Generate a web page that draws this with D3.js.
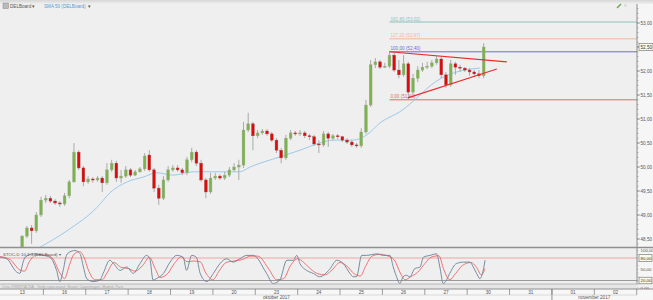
<!DOCTYPE html>
<html><head><meta charset="utf-8">
<script src="https://cdn.jsdelivr.net/npm/d3@7"></script>
<style>body{margin:0;background:#efefef;overflow:hidden}svg{display:block;font-family:"Liberation Sans",Arial,sans-serif}</style>
</head><body><svg id="c" width="653" height="300"></svg>
<script>
// ---- DATA ----
const open=[48.02,48.06,48.10,48.15,48.31,48.56,48.73,48.67,49.00,49.31,
49.35,49.29,49.25,49.23,49.40,49.69,50.31,49.98,49.69,49.75,
49.73,49.77,49.67,49.94,50.08,49.77,49.81,49.94,49.83,49.90,
49.96,50.25,49.94,49.56,49.35,49.73,49.94,49.98,49.94,49.88,
50.15,50.31,50.08,49.73,49.48,49.77,49.81,49.77,49.83,49.94,
50.00,50.04,50.77,50.90,50.65,50.71,50.75,50.69,50.56,50.35,
50.19,50.60,50.71,50.69,50.71,50.65,50.63,50.48,50.46,50.69,
50.60,50.65,50.63,50.56,50.52,50.46,50.44,50.73,51.29,52.13,
52.19,52.08,52.10,52.33,52.02,51.92,52.15,51.56,51.85,52.02,
52.08,52.10,52.17,52.25,51.92,51.71,52.15,52.08,52.06,52.02,
51.98,51.94,51.90];
const high=[48.10,48.17,48.19,48.31,48.58,48.77,48.79,49.06,49.38,49.42,
49.40,49.33,49.29,49.46,49.73,50.50,50.35,50.02,49.81,49.79,
49.81,49.81,50.08,50.15,50.13,49.94,50.02,49.98,49.94,50.00,
50.29,50.35,49.98,49.63,49.81,50.02,50.04,50.04,49.98,50.21,
50.40,50.35,50.15,49.77,49.88,49.88,49.85,49.90,50.00,50.08,
50.15,50.94,51.13,50.94,50.77,50.79,50.79,50.73,50.60,50.40,
50.67,50.77,50.75,50.77,50.75,50.69,50.67,50.56,50.75,50.73,
50.69,50.69,50.65,50.60,50.56,50.50,50.81,51.40,52.23,52.27,
52.23,52.17,52.42,52.38,52.23,52.33,52.19,51.94,52.10,52.17,
52.19,52.23,52.31,52.29,51.98,52.23,52.19,52.13,52.08,52.06,
52.02,52.02,52.58];
const low=[47.98,48.02,48.06,48.10,48.27,48.52,48.40,48.63,48.96,49.25,
49.25,49.21,49.17,49.19,49.35,49.67,49.94,49.60,49.65,49.67,
49.69,49.48,49.63,49.90,49.69,49.67,49.77,49.79,49.81,49.88,
49.92,49.90,49.48,49.21,49.31,49.69,49.90,49.90,49.83,49.83,
50.10,50.02,49.69,49.35,49.44,49.73,49.73,49.73,49.79,49.90,
49.73,49.98,50.73,50.35,50.60,50.67,50.65,50.52,50.29,50.08,
50.15,50.56,50.65,50.65,50.60,50.56,50.44,50.29,50.42,50.42,
50.56,50.58,50.52,50.48,50.42,50.40,50.40,50.69,51.25,52.06,
52.04,52.06,52.06,51.98,51.85,51.88,51.40,51.52,51.77,51.98,
52.04,52.06,52.13,51.85,51.65,51.67,51.92,51.98,51.98,51.90,
51.88,51.85,51.85];
const close=[48.06,48.10,48.15,48.27,48.56,48.73,48.67,49.00,49.31,49.35,
49.29,49.25,49.23,49.40,49.69,50.31,49.98,49.69,49.75,49.73,
49.77,49.67,49.94,50.08,49.77,49.81,49.94,49.83,49.90,49.96,
50.23,49.94,49.56,49.35,49.73,49.94,49.98,49.94,49.88,50.15,
50.31,50.08,49.73,49.48,49.77,49.81,49.77,49.83,49.94,50.00,
50.04,50.77,50.90,50.65,50.71,50.75,50.69,50.56,50.35,50.19,
50.60,50.71,50.69,50.71,50.65,50.63,50.48,50.46,50.69,50.60,
50.65,50.63,50.56,50.52,50.46,50.44,50.73,51.29,52.13,52.19,
52.08,52.10,52.33,52.02,51.92,52.15,51.56,51.85,52.02,52.08,
52.10,52.17,52.25,51.92,51.71,52.15,52.08,52.06,52.02,51.98,
51.94,51.90,52.50];
// SMA: [candle index, value]
const sma=[[7.8,48.33],[13.5,48.67],[20,49.17],[22.6,49.46],[26.3,49.69],[29.7,49.79],[32.6,49.88],[36,49.83],[40.3,49.90],[43.2,49.90],[50.2,49.90],[52.4,50.00],[58.7,50.21],[63,50.35],[67.2,50.50],[70,50.56],[74.2,50.56],[77.2,50.67],[80,50.92],[84.2,51.15],[93,51.85],[97,52.00],[101.2,52.06]];
// Stochastic %K and %D: [candle index, value]
const stochK=[[-0.7,82],[0.7,78],[2.8,43],[3.5,39],[4.2,69],[4.6,82],[6.4,91],[8.5,87],[9.9,82],[11.3,47],[12,17],[12.7,47],[13.4,87],[14.1,96],[15.2,100],[16.3,91],[17,56],[17.7,25],[19.1,17],[20.5,21],[21.2,39],[22.6,74],[23.4,65],[24.8,47],[26.2,56],[27.6,39],[29,65],[30.4,87],[31.1,78],[31.8,21],[32.5,25],[34,39],[35.4,69],[36.8,87],[38.2,82],[38.9,47],[40,87],[41,82],[41.8,39],[43.2,17],[44.6,39],[46,65],[47.4,78],[48.8,69],[50.2,78],[51.7,87],[53.1,87],[55.9,39],[57.3,12],[58.7,21],[60.2,74],[61.6,74],[62.3,87],[63,65],[64.4,47],[65.8,39],[67.2,30],[69.3,50],[70.8,74],[72.2,65],[73.6,39],[74.3,30],[75,30],[76.1,87],[77.1,87],[79.3,91],[80.7,87],[82.1,87],[82.8,56],[83.5,30],[84.2,12],[84.9,30],[85.6,34],[86.3,30],[87.4,52],[88.5,56],[89.2,82],[90.6,87],[92,91],[92.7,56],[93.4,12],[94.1,21],[94.8,39],[96.2,65],[97.7,69],[99.1,69],[99.8,56],[100.5,39],[101.2,25],[101.9,47],[102.3,74]];
const stochD=[[-0.7,84],[1.5,75],[3.5,48],[4.5,45],[5.5,70],[7,88],[9,88],[10.5,78],[12,40],[13,25],[14,60],[15,90],[16.2,97],[17.2,80],[18,50],[19.5,22],[21,22],[22,40],[23.5,68],[25,55],[26.5,52],[28,45],[29.7,62],[31,82],[32.3,50],[33.3,28],[35,40],[36.3,65],[37.8,83],[39,70],[40.5,72],[41.8,70],[43,40],[44.5,22],[45.8,45],[47.3,68],[49,72],[50.8,76],[52.5,85],[54,85],[56.5,48],[58,22],[59.5,25],[61,60],[62.5,78],[63.8,68],[65.3,50],[66.8,38],[68.3,35],[69.8,48],[71.5,68],[73,58],[74.5,38],[75.8,32],[77,60],[78.3,85],[80,90],[81.5,86],[83,75],[84.3,40],[85.3,22],[86.5,30],[88,42],[89.5,65],[90.8,82],[92.5,86],[93.5,50],[94.8,22],[96,38],[97.5,60],[99.3,68],[100.5,55],[101.5,35],[102.3,52]];
const priceTicks=[48.5,49,49.5,50,50.5,51,51.5,52,52.5,53];
const stochTicks=[0,50,100];
const stochLevels=[80,20];
const dayLabels=["13","16","17","18","19","20","23","24","25","26","27","30","31","01","02"];
const months=[["október 2017",0,13],["november 2017",13,15]];
const fib=[["161,80",53.02,"#8fbfbf"],["127,20",52.67,"#f0b895"],["100,00",52.40,"#6a6ae6"],["0,00",51.40,"#e06a6a"]];
const fibStartIdx=82;
const triUpper=[[82,52.40],[106.9,52.19]];
const triLower=[[85.9,51.44],[104.8,52.04]];
const perDay=9;

// ---- LAYOUT ----
const svg=d3.select("#c");
const W=653,H=300, axisX=637, mainTop=4, mainBot=247, stTop=248, stBot=284;
const fmt=v=>d3.format(".2f")(v).replace(".",",");
const x=d3.scaleLinear().domain([-0.5,dayLabels.length*perDay-0.5]).range([1,axisX-0.3]);
const y=d3.scaleLinear().domain([48.5,53]).range([239,23]);
const ys=d3.scaleLinear().domain([0,100]).range([288,250.5]);

svg.append("rect").attr("width",W).attr("height",H).attr("fill","#efefef");
const defs=svg.append("defs");
const grad=defs.append("linearGradient").attr("id","tg").attr("x1",0).attr("x2",0).attr("y1",0).attr("y2",1);
grad.append("stop").attr("offset",0).attr("stop-color","#d6d6d6");
grad.append("stop").attr("offset",1).attr("stop-color","#efefef");
svg.append("rect").attr("width",W).attr("height",4).attr("fill","url(#tg)");
defs.append("clipPath").attr("id","cm").append("rect").attr("x",0).attr("y",mainTop).attr("width",axisX).attr("height",mainBot-mainTop);
defs.append("clipPath").attr("id","cs").append("rect").attr("x",0).attr("y",stTop).attr("width",axisX).attr("height",stBot-stTop);
svg.append("rect").attr("x",axisX).attr("y",mainTop).attr("width",W-axisX).attr("height",stBot-mainTop).attr("fill","#f6f6f6");

const main=svg.append("g").attr("clip-path","url(#cm)");
fib.forEach(f=>{
  main.append("line").attr("x1",x(fibStartIdx)).attr("x2",axisX).attr("y1",y(f[1])).attr("y2",y(f[1])).attr("stroke",f[2]).attr("stroke-width",1);
  main.append("text").attr("x",x(fibStartIdx)+1).attr("y",y(f[1])-1.5).attr("font-size",4.6).attr("fill",f[2]).text(f[0]+" ("+fmt(f[1])+")");
});
main.append("path").datum(sma).attr("fill","none").attr("stroke","#9ccaec").attr("stroke-width",1)
 .attr("d",d3.line().x(d=>x(d[0])).y(d=>y(d[1])).curve(d3.curveMonotoneX));
const idx=d3.range(close.length);
const cg=main.append("g");
cg.selectAll("line.w").data(idx).join("line").attr("x1",i=>x(i)).attr("x2",i=>x(i))
 .attr("y1",i=>y(high[i])).attr("y2",i=>y(low[i])).attr("stroke","#aaaaaa").attr("stroke-width",1);
cg.selectAll("rect").data(idx).join("rect").attr("x",i=>x(i)-1.4).attr("width",2.8)
 .attr("y",i=>y(Math.max(open[i],close[i])))
 .attr("height",i=>Math.max(1,Math.abs(y(open[i])-y(close[i]))))
 .attr("fill",i=>close[i]>=open[i]?"#7cb24c":"#dc0a0a")
 .attr("stroke",i=>close[i]>=open[i]?"#a0ab96":"#a85050").attr("stroke-width",0.4);
[triUpper,triLower].forEach(t=>main.append("line").attr("x1",x(t[0][0])).attr("y1",y(t[0][1])).attr("x2",x(t[1][0])).attr("y2",y(t[1][1])).attr("stroke","#ea2c2c").attr("stroke-width",1.1));

svg.append("line").attr("x1",axisX).attr("x2",axisX).attr("y1",mainTop).attr("y2",mainBot).attr("stroke","#8a8a8a");
const ax=svg.append("g");
d3.range(48.4,53.41,0.1).forEach(v=>{const yy=y(v); if(yy>mainTop&&yy<mainBot) ax.append("line").attr("x1",axisX).attr("x2",axisX+1.5).attr("y1",yy).attr("y2",yy).attr("stroke","#888").attr("stroke-width",0.6);});
priceTicks.forEach(v=>{
  ax.append("line").attr("x1",axisX).attr("x2",axisX+3).attr("y1",y(v)).attr("y2",y(v)).attr("stroke","#777").attr("stroke-width",0.7);
  ax.append("text").attr("x",axisX+3.5).attr("y",y(v)+1.7).attr("font-size",4.6).attr("fill","#555").text(fmt(v));
});
const last=close[close.length-1];
ax.append("rect").attr("x",axisX+2).attr("y",y(last)-3.5).attr("width",14).attr("height",7).attr("fill","#fbfbe8").attr("stroke","#666").attr("stroke-width",0.6);
ax.append("text").attr("x",axisX+3.5).attr("y",y(last)+1.7).attr("font-size",4.6).attr("fill","#333").text(fmt(last));

// legend
svg.append("rect").attr("x",3).attr("y",3).attr("width",5.5).attr("height",5.5).attr("fill","#bbb").attr("stroke","#888").attr("stroke-width",0.5);
svg.append("text").attr("x",10).attr("y",7.5).attr("font-size",4.6).attr("fill","#555").text("DELBoard ▾");
const smaT=svg.append("text").attr("x",44).attr("y",7.5).attr("font-size",4.6).attr("fill","#5a9bd5").text("SMA 50 (DELBoard)");
const smaW=smaT.node().getComputedTextLength();
svg.append("text").attr("x",44+smaW+2).attr("y",7.5).attr("font-size",4.6).attr("fill","#555").text("▾");
svg.append("line").attr("x1",617).attr("y1",8).attr("x2",621).attr("y2",4).attr("stroke","#6aa84f").attr("stroke-width",1.5);
svg.append("rect").attr("x",624).attr("y",4).attr("width",3).attr("height",3).attr("fill","#e0e0e0");

svg.append("line").attr("x1",0).attr("x2",W).attr("y1",mainBot+0.5).attr("y2",mainBot+0.5).attr("stroke","#8f8f8f").attr("stroke-width",1.6);

const st=svg.append("g").attr("clip-path","url(#cs)");
st.append("line").attr("x1",0).attr("x2",axisX).attr("y1",ys(stochLevels[0])).attr("y2",ys(stochLevels[0])).attr("stroke","#f2a3a3").attr("stroke-width",1.2);
st.append("line").attr("x1",0).attr("x2",axisX).attr("y1",ys(stochLevels[1])).attr("y2",ys(stochLevels[1])).attr("stroke","#9a9a9a").attr("stroke-width",1.2);
const sl=d3.line().x(d=>x(d[0])).y(d=>ys(d[1])).curve(d3.curveMonotoneX);
st.append("path").datum(stochD).attr("fill","none").attr("stroke","#f06464").attr("stroke-width",0.9).attr("d",sl);
st.append("path").datum(stochK).attr("fill","none").attr("stroke","#6b7f99").attr("stroke-width",0.9).attr("d",sl);
st.append("text").attr("x",3).attr("y",255.5).attr("font-size",4.4).attr("fill","#555").text("STOC-D 10,3,3 (DELBoard) ▾");
svg.append("line").attr("x1",axisX).attr("x2",axisX).attr("y1",stTop).attr("y2",stBot).attr("stroke","#8a8a8a");
const sax=svg.append("g");
stochTicks.forEach(v=>{
  sax.append("text").attr("x",axisX+3.5).attr("y",ys(v)+1.6).attr("font-size",4.4).attr("fill","#555").text(fmt(v));
});
stochLevels.forEach(v=>{
  sax.append("rect").attr("x",axisX+2).attr("y",ys(v)-3.3).attr("width",13).attr("height",6.6).attr("fill","#fbfbe8").attr("stroke","#666").attr("stroke-width",0.6);
  sax.append("text").attr("x",axisX+3.5).attr("y",ys(v)+1.6).attr("font-size",4.4).attr("fill","#333").text(fmt(v));
});
d3.range(0,101,10).forEach(v=>sax.append("line").attr("x1",axisX).attr("x2",axisX+1.5).attr("y1",ys(v)).attr("y2",ys(v)).attr("stroke","#888").attr("stroke-width",0.5));

svg.append("rect").attr("x",0).attr("y",stBot).attr("width",axisX).attr("height",5).attr("fill","#e6e6e6");
svg.append("line").attr("x1",0).attr("x2",axisX).attr("y1",stBot).attr("y2",stBot).attr("stroke","#aaa").attr("stroke-width",0.8);
svg.append("text").attr("x",2).attr("y",288).attr("font-size",3.6).attr("fill","#a5a5a5").text("Citra ORIENTAČNÁ · Grafy spracované: Brusel, Copenhagen, Madrid, Paris");

const dTop=289;
svg.append("rect").attr("x",0).attr("y",dTop).attr("width",W).attr("height",H-dTop).attr("fill","#f7f7f7");
svg.append("line").attr("x1",0).attr("x2",W).attr("y1",dTop).attr("y2",dTop).attr("stroke","#777").attr("stroke-width",0.8);
const dg=svg.append("g");
dayLabels.forEach((d,k)=>{
  const xl=x(k*perDay-0.5), xr=x((k+1)*perDay-0.5);
  dg.append("line").attr("x1",xr).attr("x2",xr).attr("y1",dTop).attr("y2",dTop+6).attr("stroke","#777").attr("stroke-width",0.7);
  dg.append("text").attr("x",(xl+xr)/2).attr("y",dTop+5).attr("text-anchor","middle").attr("font-size",4.6).attr("fill","#555").text(d);
});
svg.append("line").attr("x1",0).attr("x2",axisX).attr("y1",dTop+6).attr("y2",dTop+6).attr("stroke","#bbb").attr("stroke-width",0.5);
months.forEach(m=>{
  const xl=x(m[1]*perDay-0.5), xr=x(m[2]*perDay-0.5);
  if(m[1]>0) dg.append("line").attr("x1",xl).attr("x2",xl).attr("y1",dTop).attr("y2",H).attr("stroke","#777").attr("stroke-width",0.8);
  dg.append("text").attr("x",(xl+xr)/2).attr("y",dTop+10).attr("text-anchor","middle").attr("font-size",4.6).attr("fill","#555").text(m[0]);
});
</script></body></html>
